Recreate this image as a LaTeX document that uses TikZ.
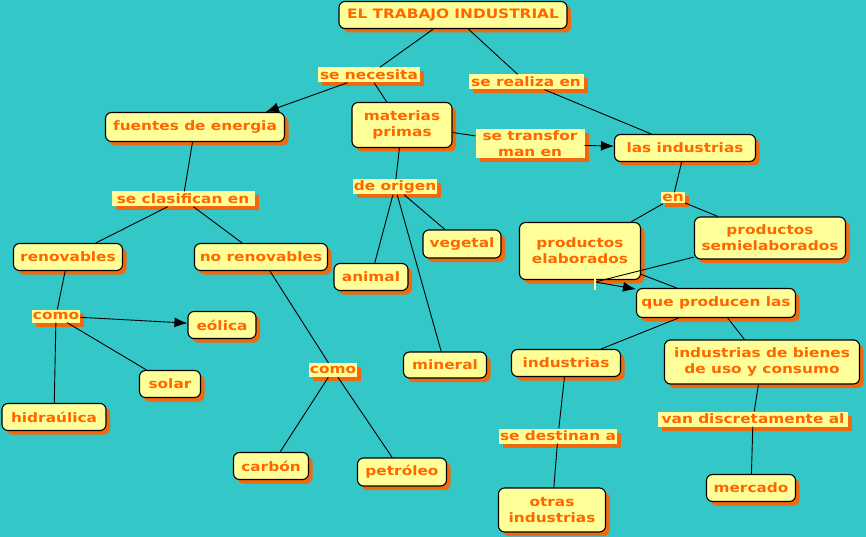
\documentclass[tikz,border=0pt]{standalone}
\usepackage{fontspec}
\setmainfont{DejaVu Sans}[FakeStretch=1.18]
\usetikzlibrary{arrows.meta,shadows}
\definecolor{bgteal}{RGB}{51,199,199}
\definecolor{boxyellow}{RGB}{255,255,153}
\definecolor{txtorange}{RGB}{255,102,0}
\definecolor{shadeorange}{RGB}{240,105,15}

\begin{document}
\begin{tikzpicture}[x=1pt,y=-1pt,
   font=\fontsize{13}{16}\selectfont\bfseries,
   orsh/.style={drop shadow={shadow xshift=4pt,shadow yshift=-4pt,fill=shadeorange,opacity=1}},
   cb/.style={draw=black,line width=1.1pt,rounded corners=6pt,fill=boxyellow,text=txtorange,
              align=center,inner sep=2pt,orsh},
   lk/.style={fill=boxyellow,text=txtorange,inner sep=1pt,align=center,orsh},
   ln/.style={line width=0.9pt,draw=black},
   ar/.style={ln,-{Latex[length=13pt,width=10pt]}}]
  \fill[bgteal] (0,0) rectangle (866,537);
  \useasboundingbox (0,0) rectangle (866,537);
  % concepts
  \node[cb,minimum width=228pt,minimum height=27pt] (title) at (453,15) {EL TRABAJO INDUSTRIAL};
  \node[cb,minimum width=179pt,minimum height=29pt] (fuen) at (195,127) {fuentes de energia};
  \node[cb,minimum width=100pt,minimum height=45pt] (mat) at (402,125) {materias\\primas};
  \node[cb,minimum width=141pt,minimum height=27pt] (lasind) at (685,148) {las industrias};
  \node[cb,minimum width=109pt,minimum height=27pt] (renov) at (68,257) {renovables};
  \node[cb,minimum width=133pt,minimum height=27pt] (norenov) at (261,257) {no renovables};
  \node[cb,minimum width=78pt,minimum height=28pt] (veg) at (462,244) {vegetal};
  \node[cb,minimum width=74pt,minimum height=27pt] (anim) at (371,277) {animal};
  \node[cb,minimum width=83pt,minimum height=26pt] (miner) at (445,365) {mineral};
  \node[cb,minimum width=121pt,minimum height=57pt] (elab) at (580,251) {productos\\elaborados};
  \node[cb,minimum width=151pt,minimum height=42pt] (semi) at (770,238) {productos\\semielaborados};
  \node[cb,minimum width=159pt,minimum height=29pt] (prod) at (716,303) {que producen las};
  \node[cb,minimum width=68pt,minimum height=27pt] (eol) at (222,325) {eólica};
  \node[cb,minimum width=61pt,minimum height=27pt] (sol) at (170,384) {solar};
  \node[cb,minimum width=104pt,minimum height=27pt] (hidr) at (54,417) {hidraúlica};
  \node[cb,minimum width=75pt,minimum height=27pt] (carb) at (271,466) {carbón};
  \node[cb,minimum width=89pt,minimum height=28pt] (petr) at (402,472) {petróleo};
  \node[cb,minimum width=109pt,minimum height=27pt] (ind) at (566,363) {industrias};
  \node[cb,minimum width=195pt,minimum height=44pt] (bien) at (762,362) {industrias de bienes\\de uso y consumo};
  \node[cb,minimum width=89pt,minimum height=27pt] (merc) at (751,488) {mercado};
  \node[cb,minimum width=107pt,minimum height=44pt] (otras) at (552,510) {otras\\industrias};
  % link labels
  \node[lk,minimum width=102pt,minimum height=15pt] (nec) at (369,75) {se necesita};
  \node[lk,minimum width=115pt,minimum height=15pt] (real) at (526,82) {se realiza en};
  \node[lk,minimum width=109pt,minimum height=29pt] (transf) at (530,144) {se transfor\\man en};
  \node[lk,minimum width=143pt,minimum height=15pt] (clas) at (183,199) {se clasifican en};
  \node[lk,minimum width=81pt,minimum height=15pt] (orig) at (395,187) {de origen};
  \node[lk,minimum width=22pt,minimum height=11pt] (en) at (673,198) {en};
  \node[lk,minimum width=46pt,minimum height=13pt] (como1) at (56,316) {como};
  \node[lk,minimum width=45pt,minimum height=14pt] (como2) at (333,370) {como};
  \node[lk,minimum width=190pt,minimum height=15pt] (van) at (753,419) {van discretamente al};
  \node[lk,minimum width=118pt,minimum height=15pt] (dest) at (558,436) {se destinan a};
  \node[fill=boxyellow,inner sep=0pt,minimum width=2.5pt,minimum height=15pt] (gap) at (595,282) {};
  % connectors
  \draw[ln] (title) -- (nec);
  \draw[ar] (nec) -- (fuen.12);
  \draw[ln] (nec) -- (mat);
  \draw[ln] (title) -- (real);
  \draw[ln] (real) -- (lasind);
  \draw[ln] (mat) -- (transf);
  \draw[ar] (transf) -- (lasind);
  \draw[ln] (fuen) -- (clas);
  \draw[ln] (clas) -- (renov);
  \draw[ln] (clas) -- (norenov);
  \draw[ln] (renov) -- (como1);
  \draw[ar] (como1) -- (eol);
  \draw[ln] (como1) -- (sol);
  \draw[ln] (como1) -- (hidr);
  \draw[ln] (norenov) -- (como2);
  \draw[ln] (como2) -- (carb);
  \draw[ln] (como2) -- (petr);
  \draw[ln] (mat) -- (orig);
  \draw[ln] (orig) -- (veg);
  \draw[ln] (orig) -- (anim);
  \draw[ln] (orig) -- (miner);
  \draw[ln] (lasind) -- (en);
  \draw[ln] (en) -- (elab);
  \draw[ln] (en) -- (semi);
  \draw[ln] (elab) -- (prod);
  \draw[ln] (semi) -- (gap);
  \draw[ar] (gap) -- (prod);
  \draw[ln] (prod) -- (ind);
  \draw[ln] (prod) -- (bien);
  \draw[ln] (ind) -- (dest);
  \draw[ln] (dest) -- (otras);
  \draw[ln] (bien) -- (van);
  \draw[ln] (van) -- (merc);
\end{tikzpicture}
\end{document}
